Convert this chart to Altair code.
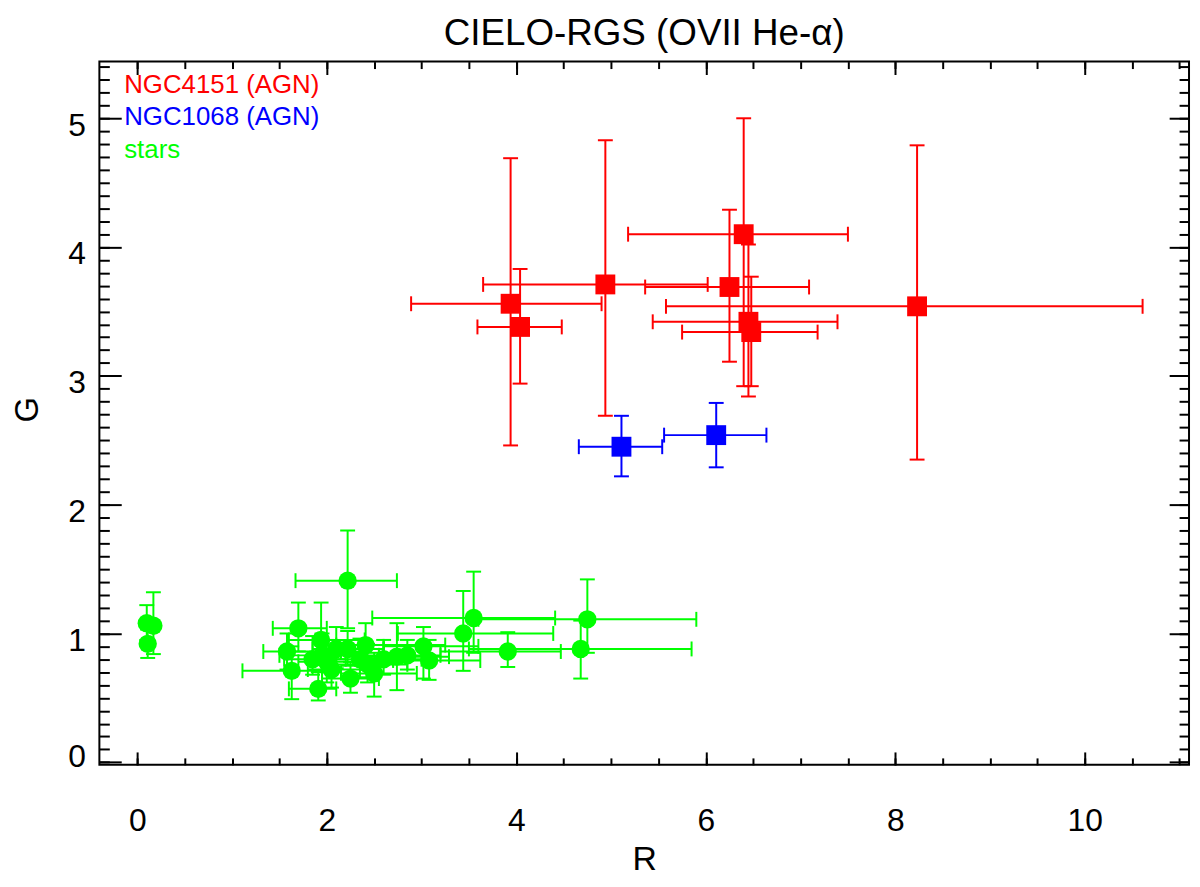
import altair as alt
import pandas as pd

# ---------------- data ----------------
# NGC4151 (AGN) : red squares
RED_R    = [3.94, 4.04, 4.94, 6.40, 6.25, 6.45, 6.48, 8.23]
RED_G    = [3.56, 3.38, 3.71, 4.10, 3.69, 3.42, 3.34, 3.54]
RED_RLO  = [2.89, 3.59, 3.65, 5.18, 5.36, 5.44, 5.75, 5.58]
RED_RHI  = [4.90, 4.48, 6.02, 7.50, 7.09, 7.39, 7.18, 10.61]
RED_GLO  = [2.46, 2.94, 2.69, 2.92, 3.11, 2.84, 2.92, 2.35]
RED_GHI  = [4.69, 3.83, 4.83, 5.00, 4.29, 4.02, 3.77, 4.79]

# NGC1068 (AGN) : blue squares
BLUE_R   = [5.11, 6.11]
BLUE_G   = [2.45, 2.54]
BLUE_RLO = [4.66, 5.56]
BLUE_RHI = [5.54, 6.64]
BLUE_GLO = [2.22, 2.29]
BLUE_GHI = [2.69, 2.79]

# stars : green circles (None = no R error bar)
GREEN_R   = [0.10, 0.17, 0.11, 2.22, 1.70, 1.58, 1.63, 1.91, 1.94, 1.95,
             2.00, 2.05, 2.10, 2.25, 2.41, 2.43, 2.50, 2.22, 2.74, 3.02,
             3.08, 3.44, 3.55, 3.91, 4.75, 4.68, 2.60, 2.85, 1.85, 2.35]
GREEN_G   = [1.08, 1.06, 0.92, 1.41, 1.04, 0.86, 0.71, 0.57, 0.95, 0.83,
             0.78, 0.72, 0.88, 0.65, 0.91, 0.76, 0.69, 0.88, 0.82, 0.90,
             0.79, 1.00, 1.12, 0.86, 1.11, 0.88, 0.80, 0.83, 0.80, 0.80]
GREEN_RLO = [None, None, None, 1.67, 1.43, 1.33, 1.11, 1.60, 1.60, 1.50,
             1.70, 1.80, 1.85, 1.95, 2.10, 2.10, 2.15, 1.90, 2.40, 2.60,
             2.70, 2.75, 2.48, 3.20, 3.60, 3.50, 2.30, 2.55, 1.55, 2.05]
GREEN_RHI = [None, None, None, 2.74, 2.00, 2.15, 1.95, 2.10, 2.40, 2.55,
             2.35, 2.45, 2.60, 2.55, 3.25, 2.85, 2.95, 2.60, 3.29, 3.60,
             3.62, 4.39, 4.41, 4.47, 5.90, 5.85, 3.00, 3.20, 2.20, 2.70]
GREEN_GLO = [0.95, 0.84, 0.81, 1.04, 0.86, 0.72, 0.49, 0.48, 0.80, 0.70,
             0.62, 0.58, 0.73, 0.54, 0.76, 0.62, 0.51, 0.75, 0.56, 0.65,
             0.64, 0.71, 0.85, 0.74, 0.85, 0.65, 0.68, 0.72, 0.68, 0.66]
GREEN_GHI = [1.22, 1.32, 1.03, 1.80, 1.24, 1.00, 0.90, 0.70, 1.24, 1.00,
             0.95, 0.88, 1.05, 0.78, 1.08, 0.92, 0.85, 1.02, 1.08, 1.05,
             0.95, 1.33, 1.48, 1.01, 1.42, 1.10, 0.95, 0.95, 0.98, 0.96]

TITLE = "CIELO-RGS (OVII He-α)"
LEGEND_LABELS = ["NGC4151 (AGN)", "NGC1068 (AGN)", "stars"]
COLORS = ["#ff0000", "#0000ff", "#00ff00"]

X_MAJOR = [0, 2, 4, 6, 8, 10]
X_MINOR = [0.5 * i for i in range(0, 23)]
Y_MAJOR = [0, 1, 2, 3, 4, 5]
Y_MINOR = [round(0.1 * i, 1) for i in range(0, 55)]

X_DOMAIN = [-0.40, 11.10]
Y_DOMAIN = [-0.02, 5.44]

FONT = "Liberation Sans"
W, H = 1097, 708

# ---------------- helpers ----------------
def frame(r, g, rlo, rhi, glo, ghi):
    return pd.DataFrame({"x": r, "y": g, "xlo": rlo, "xhi": rhi,
                         "ylo": glo, "yhi": ghi})

red_df = frame(RED_R, RED_G, RED_RLO, RED_RHI, RED_GLO, RED_GHI)
blue_df = frame(BLUE_R, BLUE_G, BLUE_RLO, BLUE_RHI, BLUE_GLO, BLUE_GHI)
green_df = frame(GREEN_R, GREEN_G, GREEN_RLO, GREEN_RHI, GREEN_GLO, GREEN_GHI)

xs = alt.Scale(domain=X_DOMAIN, nice=False, zero=False)
ys = alt.Scale(domain=Y_DOMAIN, nice=False, zero=False)


def X(field, axis=None):
    return alt.X(field, type="quantitative", scale=xs, axis=axis)


def Y(field, axis=None):
    return alt.Y(field, type="quantitative", scale=ys, axis=axis)


def group(df, color, shape, size):
    base = alt.Chart(df)
    withx = base.transform_filter("isValid(datum.xlo)")
    cap = dict(color=color, size=15, thickness=2, opacity=1)
    return [
        withx.mark_rule(color=color, strokeWidth=2).encode(
            x=X("xlo"), x2="xhi", y=Y("y")),
        withx.mark_tick(orient="vertical", **cap).encode(x=X("xlo"), y=Y("y")),
        withx.mark_tick(orient="vertical", **cap).encode(x=X("xhi"), y=Y("y")),
        base.mark_rule(color=color, strokeWidth=2).encode(
            x=X("x"), y=Y("ylo"), y2="yhi"),
        base.mark_tick(orient="horizontal", **cap).encode(x=X("x"), y=Y("ylo")),
        base.mark_tick(orient="horizontal", **cap).encode(x=X("x"), y=Y("yhi")),
        base.mark_point(shape=shape, filled=True, color=color, size=size,
                        opacity=1, strokeWidth=0).encode(x=X("x"), y=Y("y")),
    ]


def xaxis(orient, values, size, labels, title=None):
    kw = dict(orient=orient, values=values, offset=-size, tickSize=size,
              tickWidth=2, tickColor="black", domain=False, grid=False,
              labels=labels)
    if labels:
        kw.update(labelFont=FONT, labelFontSize=32, labelColor="black",
                  labelPadding=41, labelFlush=False, labelOverlap=False,
                  format="d")
    if title:
        kw.update(title=title, titleFont=FONT, titleFontSize=34,
                  titleFontWeight="normal", titleColor="black",
                  titleBaseline="alphabetic", titleY=118)
    else:
        kw.update(title=None)
    return alt.Axis(**kw)


def yaxis(orient, values, size, labels, title=None):
    kw = dict(orient=orient, values=values, offset=-size, tickSize=size,
              tickWidth=2, tickColor="black", domain=False, grid=False,
              labels=labels)
    if labels:
        kw.update(labelFont=FONT, labelFontSize=32, labelColor="black",
                  labelPadding=14, labelFlush=False, labelOverlap=False,
                  format="d",
                  labelOffset={"condition": {"test": "datum.value === 0",
                                             "value": -6},
                               "value": 7})
    if title:
        kw.update(title=title, titleFont=FONT, titleFontSize=33,
                  titleFontWeight="normal", titleColor="black",
                  titleBaseline="alphabetic", titleAngle=270,
                  titleAlign="center", titleX=-84, titleY=350)
    else:
        kw.update(title=None)
    return alt.Axis(**kw)


ghost = alt.Chart(red_df).mark_point(opacity=0)
axis_layers = [
    ghost.encode(x=X("x", xaxis("bottom", X_MAJOR, 13, True, "R")),
                 y=Y("y", yaxis("left", Y_MAJOR, 22, True, "G"))),
    ghost.encode(x=X("x", xaxis("bottom", X_MINOR, 7, False)),
                 y=Y("y", yaxis("left", Y_MINOR, 10, False))),
    ghost.encode(x=X("x", xaxis("top", X_MAJOR, 13, False)),
                 y=Y("y", yaxis("right", Y_MAJOR, 20, False))),
    ghost.encode(x=X("x", xaxis("top", X_MINOR, 7, False)),
                 y=Y("y", yaxis("right", Y_MINOR, 10, False))),
]

legend_layers = []
for i, (lab, col) in enumerate(zip(LEGEND_LABELS, COLORS)):
    legend_layers.append(
        alt.Chart(pd.DataFrame({"t": [lab]})).mark_text(
            align="left", baseline="alphabetic", font=FONT, fontSize=26,
            color=col).encode(text="t:N", x=alt.value(25),
                              y=alt.value(32 + 32.3 * i)))

title_layer = alt.Chart(pd.DataFrame({"t": [TITLE]})).mark_text(
    align="center", baseline="alphabetic", font=FONT, fontSize=37,
    color="black").encode(text="t:N", x=alt.value(W / 2), y=alt.value(-17))

layers = (axis_layers
          + group(green_df, COLORS[2], "circle", 340)
          + group(red_df, COLORS[0], "square", 400)
          + group(blue_df, COLORS[1], "square", 400)
          + legend_layers + [title_layer])

chart = alt.layer(*layers).resolve_axis(
    x="independent", y="independent"
).properties(
    width=W, height=H,
    padding={"left": 92, "top": 51, "right": 3, "bottom": 120},
    autosize=alt.AutoSizeParams(type="none"),
    background="white",
).configure_view(stroke="black", strokeWidth=2)

chart.save("out.html", embed_options={"renderer": "svg", "actions": False})
